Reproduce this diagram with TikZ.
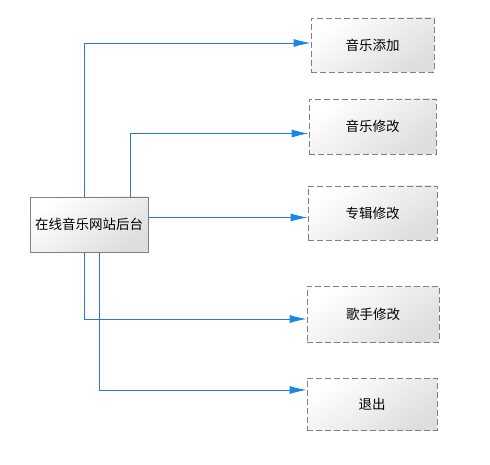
\documentclass[tikz,border=0pt]{standalone}
\usepackage{fontspec}
\setmainfont{Noto Sans CJK SC}
\usetikzlibrary{arrows.meta,calc}
\definecolor{lineblue}{HTML}{2E78D6}
\definecolor{tipblue}{HTML}{1A86EA}
\definecolor{boxgray}{HTML}{808080}
\begin{document}
\begin{tikzpicture}[x=1pt,y=-1pt,
  boxbase/.style={draw=boxgray, line width=0.8pt, inner sep=0pt,
    top color=white, bottom color=black!13, shading angle=35,
    font=\fontsize{13.5pt}{16pt}\selectfont},
  mainbox/.style={boxbase},
  itembox/.style={boxbase, dash pattern=on 6pt off 3pt},
  conn/.style={draw=lineblue, line width=0.9pt,
    -{Latex[length=17pt,width=8pt,fill=tipblue,color=tipblue]}}]
\useasboundingbox (0,0) rectangle (490,465);
\node[mainbox, minimum width=118pt, minimum height=55pt] (main) at (89,224.5) {在线音乐网站后台};
\node[itembox, minimum width=123pt, minimum height=54pt] (b1) at (372.5,45) {音乐添加};
\node[itembox, minimum width=127pt, minimum height=55pt] (b2) at (372.5,126.5) {音乐修改};
\node[itembox, minimum width=129pt, minimum height=54pt] (b3) at (372.5,213) {专辑修改};
\node[itembox, minimum width=132pt, minimum height=56pt] (b4) at (373,314) {歌手修改};
\node[itembox, minimum width=130pt, minimum height=52pt] (b5) at (372,404) {退出};
\draw[conn] ($(main.north west)+(55,0)$) |- ($(b1.west)+(0,-2)$);
\draw[conn] ($(main.north west)+(101,0)$) |- ($(b2.west)+(0,7)$);
\draw[conn] ($(main.east)+(0,-7)$) -- ($(b3.west)+(0,4.5)$);
\draw[conn] ($(main.south west)+(55,0)$) |- ($(b4.west)+(0,5)$);
\draw[conn] ($(main.south west)+(70,0)$) |- ($(b5.west)+(0,-14)$);
\end{tikzpicture}
\end{document}
